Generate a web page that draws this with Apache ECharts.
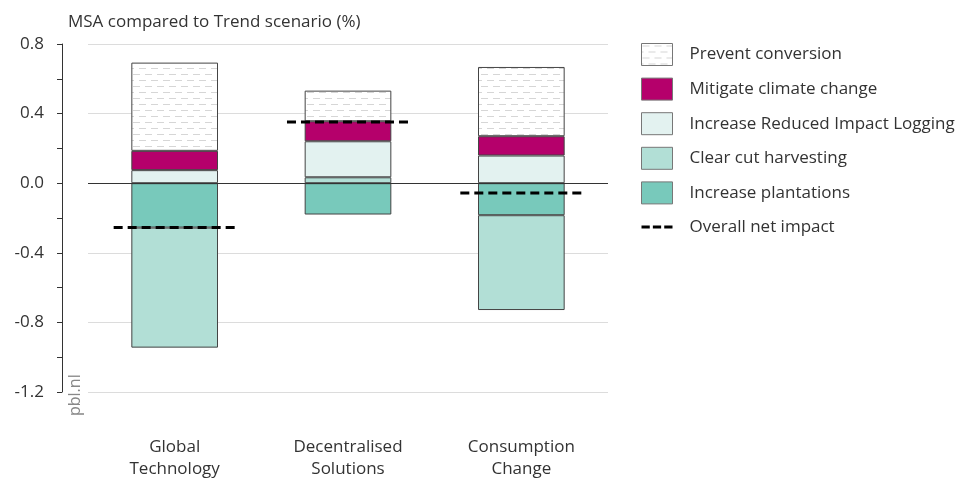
<!DOCTYPE html>
<html>
<head>
<meta charset="utf-8">
<script src="https://cdn.jsdelivr.net/npm/echarts@6/dist/echarts.min.js"></script>
<style>html,body{margin:0;padding:0;background:#fff}#c{width:959px;height:481px}</style>
</head>
<body>
<div id="c"></div>
<script>
var categories = ['Global\nTechnology', 'Decentralised\nSolutions', 'Consumption\nChange'];
var increasePlantations = [-0.255, -0.18, -0.184];
var clearCut = [-0.69, 0.034, -0.545];
var reducedImpactLogging = [0.075, 0.207, 0.159];
var mitigateClimate = [0.111, 0.115, 0.111];
var preventConversion = [0.507, 0.176, 0.398];
var netImpact = [-0.255, 0.352, -0.056];
var yTicks = { min: -1.2, max: 0.8, interval: 0.4 };

var FONT = '"Open Sans", sans-serif';

var pat = document.createElement('canvas');
pat.width = 12; pat.height = 12;
var g = pat.getContext('2d');
g.fillStyle = '#ffffff'; g.fillRect(0, 0, 12, 12);
g.fillStyle = '#d6d6d6';
g.fillRect(1, 2, 7, 1);
g.fillRect(7, 8, 5, 1);
g.fillRect(0, 8, 2, 1);

var chart = echarts.init(document.getElementById('c'), null, { renderer: 'canvas' });

var border = { borderColor: '#444', borderWidth: 1 };
function barSeries(name, data, color) {
  return {
    name: name, type: 'bar', stack: 'total', data: data, barWidth: '50%',
    itemStyle: Object.assign({ color: color }, border),
    emphasis: { disabled: true }
  };
}

chart.setOption({
  animation: false,
  textStyle: { fontFamily: FONT },
  title: {
    text: 'MSA compared to Trend scenario (%)', left: 63, top: 9,
    textStyle: { fontFamily: FONT, fontSize: 17, fontWeight: 'normal', color: '#333' }
  },
  grid: { left: 88, right: 351, top: 44, bottom: 89 },
  legend: {
    orient: 'vertical', left: 641, top: 43, padding: 0, itemWidth: 31, itemHeight: 22, itemGap: 11.6,
    icon: 'rect',
    textStyle: { fontFamily: FONT, fontSize: 17, lineHeight: 22, color: '#333', padding: [0, 0, 0, 12] },
    itemStyle: { borderColor: '#777', borderWidth: 1 },
    selectedMode: false,
    data: [
      { name: 'Prevent conversion', icon: 'rect' },
      { name: 'Mitigate climate change', icon: 'rect' },
      { name: 'Increase Reduced Impact Logging', icon: 'rect' },
      { name: 'Clear cut harvesting', icon: 'rect' },
      { name: 'Increase plantations', icon: 'rect' },
      { name: 'Overall net impact', icon: 'path://M0,0h8v3h-8zM11,0h8v3h-8zM22,0h8v3h-8z', itemStyle: { color: '#000', borderWidth: 0 } }
    ]
  },
  xAxis: {
    type: 'category', data: categories,
    axisLine: { show: false }, axisTick: { show: false },
    axisLabel: { fontFamily: FONT, fontSize: 17, color: '#333', lineHeight: 22, margin: 44 }
  },
  yAxis: {
    type: 'value', min: yTicks.min, max: yTicks.max, interval: yTicks.interval, offset: 26,
    axisLine: { show: true, lineStyle: { color: '#333' } },
    axisTick: { show: true, length: 5, lineStyle: { color: '#333' } },
    minorTick: { show: true, splitNumber: 2, length: 5, lineStyle: { color: '#333' } },
    splitLine: { show: true, lineStyle: { color: '#dcdcdc' } },
    axisLabel: { fontFamily: FONT, fontSize: 17, color: '#333', margin: 18, formatter: function (v) { return v.toFixed(1); } }
  },
  series: [
    barSeries('Increase plantations', increasePlantations, '#78c9bb'),
    barSeries('Clear cut harvesting', clearCut, '#b2dfd6'),
    barSeries('Increase Reduced Impact Logging', reducedImpactLogging, '#e3f2f0'),
    barSeries('Mitigate climate change', mitigateClimate, '#b5006b'),
    barSeries('Prevent conversion', preventConversion, { image: pat, repeat: 'repeat' }),
    {
      name: 'Overall net impact', type: 'custom', z: 5,
      itemStyle: { color: '#000' },
      data: netImpact.map(function (v, i) { return [i, v]; }),
      encode: { x: 0, y: 1 },
      renderItem: function (params, api) {
        var p = api.coord([api.value(0), api.value(1)]);
        var half = api.size([1, 0])[0] * 0.352;
        return {
          type: 'line',
          shape: { x1: p[0] - half, y1: p[1], x2: p[0] + half, y2: p[1] },
          style: { stroke: '#000', lineWidth: 3, lineDash: [9, 5], fill: null }
        };
      },
      markLine: {
        silent: true, symbol: ['none', 'none'], label: { show: false },
        lineStyle: { color: '#333', width: 1, type: 'solid' },
        data: [{ yAxis: 0 }]
      }
    }
  ],
  graphic: [{
    type: 'text', x: 67, y: 416, rotation: Math.PI / 2,
    style: { text: 'pbl.nl', fill: '#888', font: '16px ' + FONT }
  }]
});
</script>
</body>
</html>
